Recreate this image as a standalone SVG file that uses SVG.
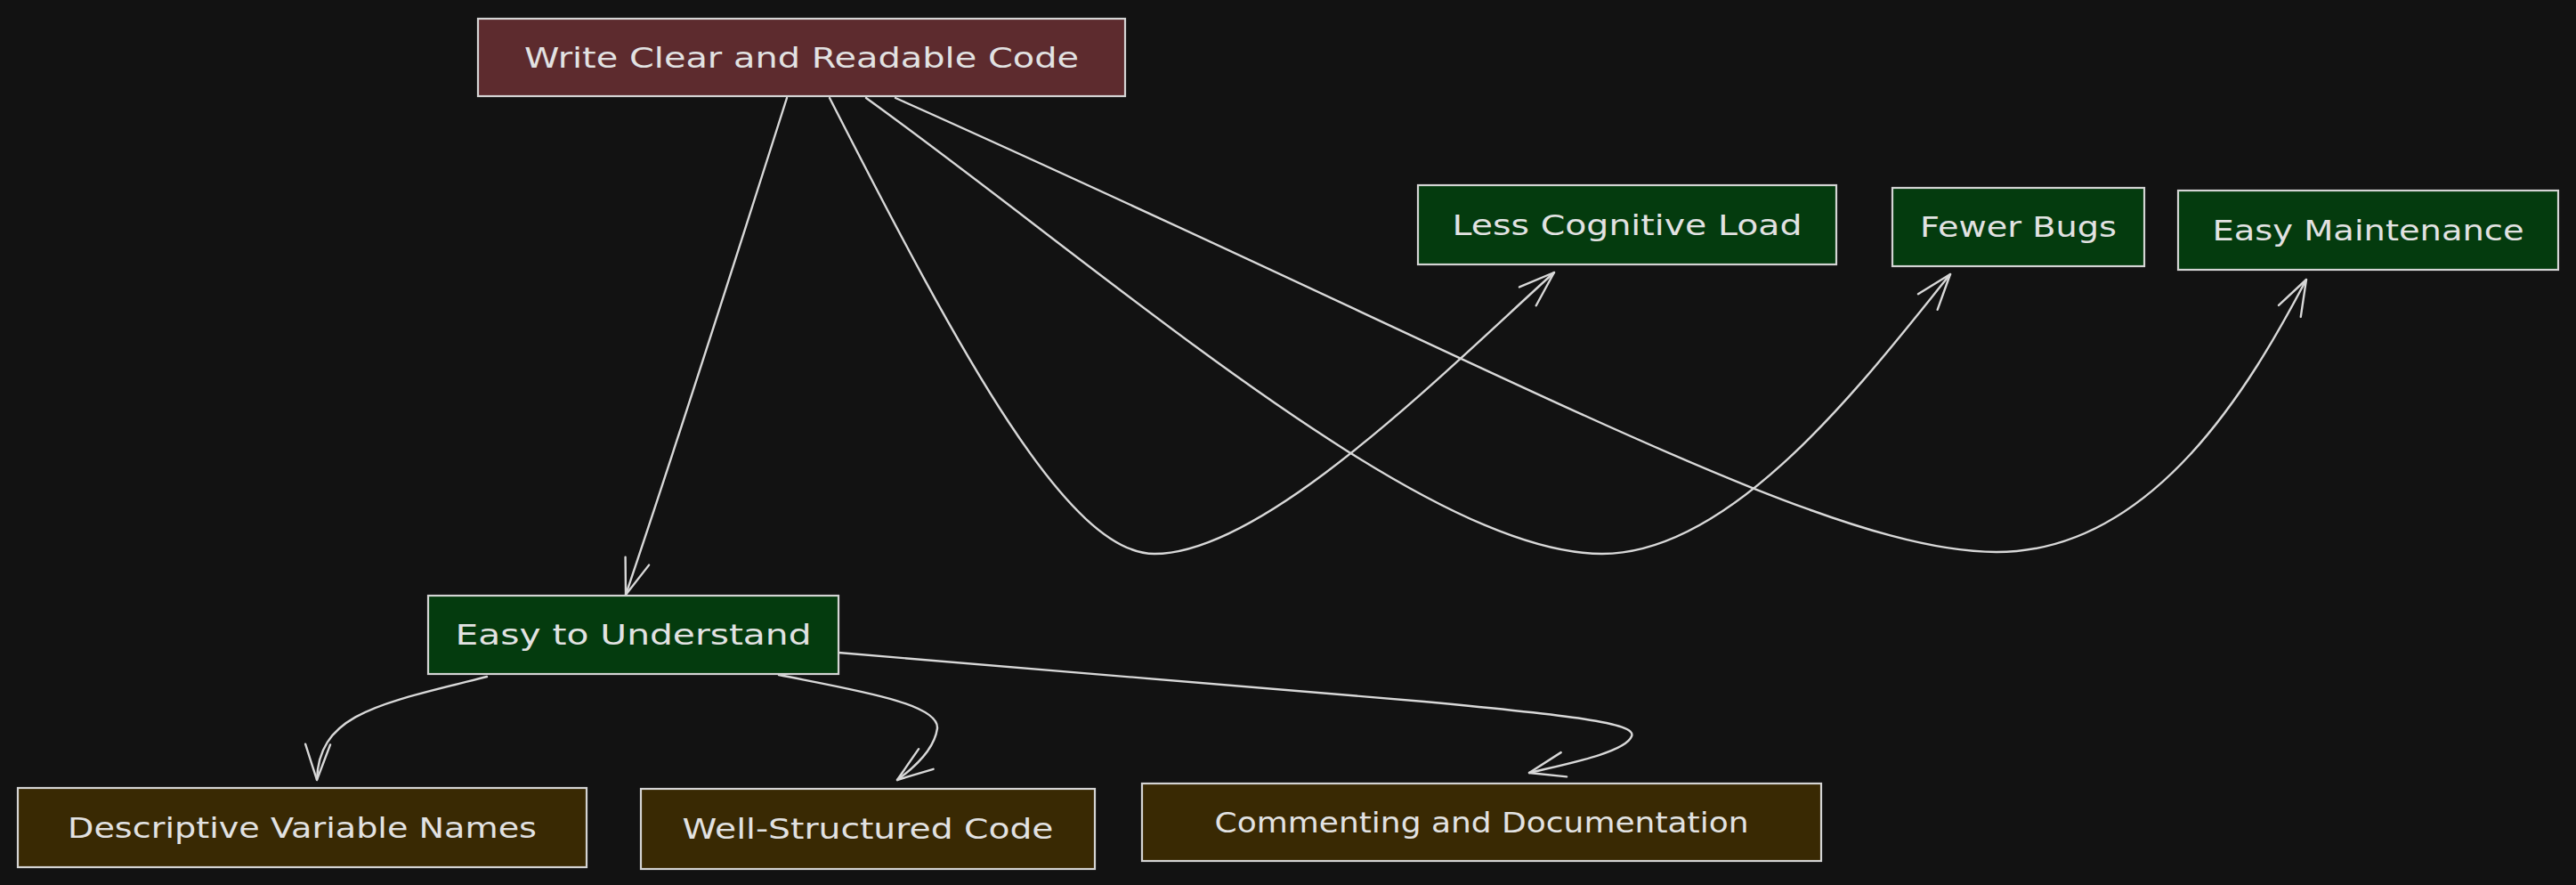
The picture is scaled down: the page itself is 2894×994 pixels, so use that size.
<svg xmlns="http://www.w3.org/2000/svg" width="2894" height="994" viewBox="0 0 2894 994">
<style>
.bg{fill:#121212}
.box{stroke:#d4d4d4;stroke-width:2.2}
.red{fill:#5d2b2e}
.green{fill:#043b0e}
.brown{fill:#392903}
.lbl{font-family:"DejaVu Sans","Liberation Sans",sans-serif;font-size:32px;fill:#e2e2e2;text-anchor:middle}
.edge{fill:none;stroke:#d8d8d8;stroke-width:2.4;stroke-linecap:round;marker-end:url(#ah)}
</style>
<defs>
<marker id="ah" markerUnits="userSpaceOnUse" markerWidth="60" markerHeight="60" viewBox="-50 -30 60 60" refX="0" refY="0" orient="auto" overflow="visible">
<path d="M-40,-14 L0,0 L-40,14" fill="none" stroke="#d8d8d8" stroke-width="2.4" stroke-linecap="round" stroke-linejoin="round"/>
</marker>
</defs>
<rect class="bg" x="0" y="0" width="2894" height="994"/>
<g id="connectors">
<path class="edge" d="M884,110 Q760,500 703,668"/>
<path class="edge" d="M932,110 C1080,400 1200,622 1297,622 C1420,622 1620,420 1746,306"/>
<path class="edge" d="M973,110 C1250,310 1600,622 1800,622 C1950,622 2100,420 2191,308"/>
<path class="edge" d="M1006,110 C1700,420 2050,620 2243,620 C2420,620 2530,430 2591,314"/>
<path class="edge" d="M547,760 C430,790 358,800 356,876"/>
<path class="edge" d="M875,758 C960,775 1055,790 1053,818 C1050,840 1030,860 1008,876"/>
<path class="edge" d="M942,733 L1600,788 C1760,803 1840,812 1833,827 C1826,845 1760,858 1718,868"/>
</g>
<g id="node-write">
<rect class="box red" x="537" y="21" width="727" height="87"/>
<text class="lbl" x="900.5" y="75.5" textLength="623" lengthAdjust="spacingAndGlyphs">Write Clear and Readable Code</text>
</g>
<g id="node-less">
<rect class="box green" x="1593" y="208" width="470" height="89"/>
<text class="lbl" x="1828" y="263.5" textLength="393" lengthAdjust="spacingAndGlyphs">Less Cognitive Load</text>
</g>
<g id="node-fewer">
<rect class="box green" x="2126" y="211" width="283" height="88"/>
<text class="lbl" x="2267.5" y="266" textLength="221" lengthAdjust="spacingAndGlyphs">Fewer Bugs</text>
</g>
<g id="node-maint">
<rect class="box green" x="2447" y="214" width="427" height="89"/>
<text class="lbl" x="2660.5" y="269.5" textLength="350" lengthAdjust="spacingAndGlyphs">Easy Maintenance</text>
</g>
<g id="node-easy">
<rect class="box green" x="481" y="669" width="461" height="88"/>
<text class="lbl" x="711.5" y="724" textLength="400" lengthAdjust="spacingAndGlyphs">Easy to Understand</text>
</g>
<g id="node-desc">
<rect class="box brown" x="20" y="885" width="639" height="89"/>
<text class="lbl" x="339.5" y="940.5" textLength="527" lengthAdjust="spacingAndGlyphs">Descriptive Variable Names</text>
</g>
<g id="node-well">
<rect class="box brown" x="720" y="886" width="510" height="90"/>
<text class="lbl" x="975" y="942" textLength="417" lengthAdjust="spacingAndGlyphs">Well-Structured Code</text>
</g>
<g id="node-comm">
<rect class="box brown" x="1283" y="880" width="763" height="87"/>
<text class="lbl" x="1664.5" y="934.5" textLength="600" lengthAdjust="spacingAndGlyphs">Commenting and Documentation</text>
</g>
</svg>
